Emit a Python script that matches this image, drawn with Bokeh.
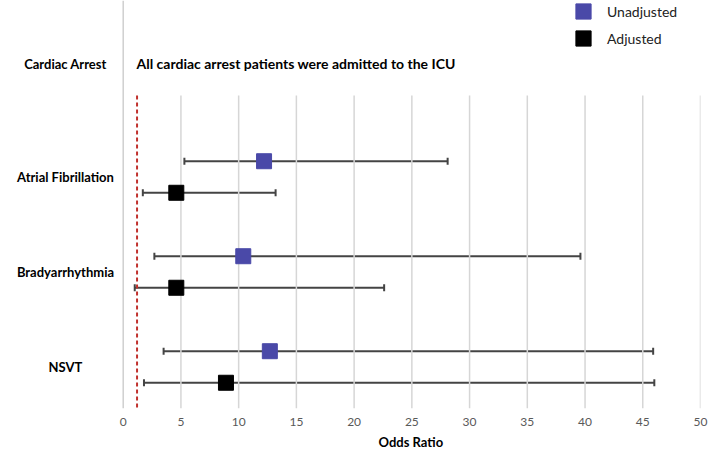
from bokeh.plotting import figure
from bokeh.models import (ColumnDataSource, Range1d, FixedTicker, Whisker, TeeHead,
                          Span, Title, Legend, LegendItem)
from bokeh.core.properties import value
from bokeh.embed import file_html
from bokeh.resources import INLINE

# ---- data ----
categories = ["Atrial Fibrillation", "Bradyarrhythmia", "NSVT"]
unadj_or = [12.2, 10.4, 12.7]
unadj_lo = [5.3, 2.7, 3.5]
unadj_hi = [28.1, 39.6, 45.9]
adj_or = [4.6, 4.6, 8.9]
adj_lo = [1.7, 1.0, 1.8]
adj_hi = [13.2, 22.6, 46.0]
note_category = "Cardiac Arrest"
note_text = "All cardiac arrest patients were admitted to the ICU"
x_ticks = [0, 5, 10, 15, 20, 25, 30, 35, 40, 45, 50]
null_line = 1.2

FONT = "Lato"
BLUE = "#4a49a8"

# row positions (row index; note row above the first category)
rows = [i + 1 for i in range(len(categories))]
off = 0.166
src_u = ColumnDataSource(dict(y=[r - off for r in rows], x=unadj_or, lo=unadj_lo, hi=unadj_hi))
src_a = ColumnDataSource(dict(y=[r + off for r in rows], x=adj_or, lo=adj_lo, hi=adj_hi))

p = figure(width=711, height=456, output_backend="svg", toolbar_location=None,
           x_range=Range1d(-10.627, 50), y_range=Range1d(3.437, -0.858),
           y_axis_location=None, min_border_left=0, min_border_top=0,
           min_border_right=11, min_border_bottom=48)
p.outline_line_color = None
p.xgrid.visible = False
p.ygrid.visible = False
p.background_fill_color = "white"

# gridlines
grid_top = 0.142
grid_bottom = 3.437
p.segment(x0=x_ticks[1:], x1=x_ticks[1:], y0=grid_top, y1=grid_bottom,
          line_color="#d6d6d6", line_width=1.5)
p.add_layout(Span(location=0, dimension="height", line_color="#cfcfcf", line_width=1.5))

# null line
p.segment(x0=[null_line], x1=[null_line], y0=grid_top, y1=grid_bottom,
          line_color="#c0302c", line_width=2, line_dash="4 3")

# whiskers
for src in (src_u, src_a):
    w = Whisker(source=src, base="y", lower="lo", upper="hi", dimension="width",
                line_color="#444444", line_width=2,
                lower_head=TeeHead(size=7, line_color="#444444", line_width=2),
                upper_head=TeeHead(size=7, line_color="#444444", line_width=2))
    p.add_layout(w)

ru = p.scatter("x", "y", source=src_u, marker="square", size=15,
               fill_color=BLUE, line_color=BLUE)
ra = p.scatter("x", "y", source=src_a, marker="square", size=15,
               fill_color="black", line_color="black")

# category labels
lab_y = [-0.19] + rows
lab_t = [note_category] + categories
p.text(x=[-5.0] * len(lab_t), y=lab_y, text=lab_t, text_align="center",
       text_baseline="middle", text_font=value(FONT), text_font_style="bold",
       text_font_size="13px", text_color="black")
p.text(x=[1.15], y=[-0.19], text=[note_text], text_align="left",
       text_baseline="middle", text_font=value(FONT), text_font_style="bold",
       text_font_size="14px", text_color="black")

# x axis
ax = p.xaxis[0]
ax.ticker = FixedTicker(ticks=x_ticks)
ax.axis_line_color = None
ax.major_tick_line_color = None
ax.minor_tick_line_color = None
ax.major_label_standoff = 3
ax.major_label_text_font = FONT
ax.major_label_text_font_size = "12px"
ax.major_label_text_color = "#595959"

p.add_layout(Title(text="Odds Ratio", align="left", offset=378, vertical_align="middle",
                   standoff=8, text_font=FONT, text_font_style="bold",
                   text_font_size="13px", text_color="black"), "below")

leg_u = Legend(items=[LegendItem(label="Unadjusted", renderers=[ru])],
               location=(564, 378), glyph_width=38, glyph_height=38, padding=0, margin=0,
               label_standoff=5, label_text_font=FONT, label_text_font_size="14px",
               label_text_color="#222222", border_line_color=None, background_fill_alpha=0)
leg_a = Legend(items=[LegendItem(label="Adjusted", renderers=[ra])],
               location=(564, 351), glyph_width=38, glyph_height=38, padding=0, margin=0,
               label_standoff=5, label_text_font=FONT, label_text_font_size="14px",
               label_text_color="#222222", border_line_color=None, background_fill_alpha=0)
p.add_layout(leg_u, "center")
p.add_layout(leg_a, "center")

open("out.html", "w").write(file_html(p, INLINE))
